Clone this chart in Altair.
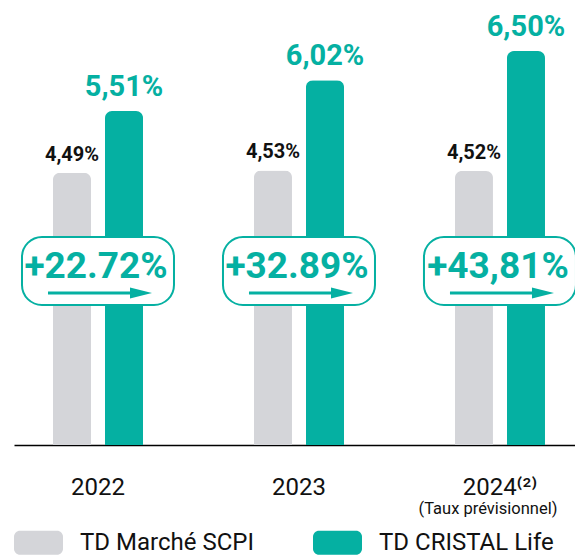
import altair as alt
import pandas as pd

# ---------------- data ----------------
years = ["2022", "2023", "2024"]
year_labels = ["2022", "2023", "2024⁽²⁾"]
series = ["TD Marché SCPI", "TD CRISTAL Life"]
scpi_values = [4.49, 4.53, 4.52]
cristal_values = [5.51, 6.02, 6.50]
scpi_labels = ["4,49%", "4,53%", "4,52%"]
cristal_labels = ["5,51%", "6,02%", "6,50%"]
gain_labels = ["+22.72%", "+32.89%", "+43,81%"]
note_year = ["2024"]
note_text = ["(Taux prévisionnel)"]

GREY = "#d4d5d9"
TEAL = "#05b0a2"
INK = "#111111"
FONT = "Roboto"

bars_df = pd.DataFrame({
    "year": years * 2,
    "series": [series[0]] * len(years) + [series[1]] * len(years),
    "value": scpi_values + cristal_values,
    "label": scpi_labels + cristal_labels,
})
gains_df = pd.DataFrame({"year": years, "gain": gain_labels})
note_df = pd.DataFrame({"year": note_year, "note": note_text})

label_expr = " : ".join(
    [f"datum.value == '{y}' ? '{l}'" for y, l in zip(years, year_labels)] + ["datum.label"]
)

x_scale = alt.Scale(domain=years, paddingInner=0.552, paddingOuter=0.1716, align=0.565)
x_enc = alt.X(
    "year:N",
    scale=x_scale,
    axis=alt.Axis(
        title=None, labelExpr=label_expr, ticks=False, domainColor="#000000",
        domainWidth=1.5, labelFont=FONT, labelFontSize=24, labelColor=INK,
        labelPadding=30, labelAngle=0,
    ),
)
xoff_enc = alt.XOffset("series:N", scale=alt.Scale(domain=series, paddingInner=0.269, paddingOuter=0))
y_enc = alt.Y("value:Q", scale=alt.Scale(domain=[0, 7.21], nice=False, zero=True), axis=None)

ROUNDED = ("M-0.755,-0.49H0.755A0.245,0.245 0 0 1 1,-0.245V0.245"
           "A0.245,0.245 0 0 1 0.755,0.49H-0.755A0.245,0.245 0 0 1 -1,0.245"
           "V-0.245A0.245,0.245 0 0 1 -0.755,-0.49Z")
ARROW = ("M-1,-0.029L0.577,-0.029L0.577,-0.106L1,0L0.577,0.106"
         "L0.577,0.029L-1,0.029Z")

color_enc = alt.Color(
    "series:N",
    scale=alt.Scale(domain=series, range=[GREY, TEAL]),
    legend=alt.Legend(
        orient="none", legendX=0, legendY=510, direction="horizontal", title=None,
        symbolType=ROUNDED, symbolSize=2401, symbolStrokeWidth=0, symbolOpacity=1,
        labelFont=FONT, labelFontSize=24, labelColor=INK, labelOffset=17,
        columnPadding=59, padding=0, labelLimit=400,
    ),
)

bars = alt.Chart(bars_df).mark_bar(cornerRadiusTopLeft=7, cornerRadiusTopRight=7).encode(
    x=x_enc, xOffset=xoff_enc, y=y_enc, color=color_enc,
)

grey_lbl = alt.Chart(bars_df).transform_filter(
    alt.datum.series == series[0]
).mark_text(font=FONT, fontWeight="bold", fontSize=20, color=INK, baseline="alphabetic", dy=-12).encode(
    x=x_enc, xOffset=xoff_enc, y=y_enc, text="label:N",
)

teal_lbl = alt.Chart(bars_df).transform_filter(
    alt.datum.series == series[1]
).mark_text(font=FONT, fontWeight="bold", fontSize=29, color=TEAL, baseline="alphabetic", dy=-15).encode(
    x=x_enc, xOffset=xoff_enc, y=y_enc, text="label:N",
)

box = alt.Chart(gains_df).mark_bar(
    width=152, cornerRadius=20, fill="white", stroke=TEAL, strokeWidth=2,
).encode(x=x_enc, y=alt.value(229), y2=alt.value(297))

gain_txt = alt.Chart(gains_df).mark_text(
    font=FONT, fontWeight="bold", fontSize=37, color=TEAL, baseline="middle", dx=-2,
).encode(x=x_enc, y=alt.value(259), text="gain:N")

arrow = alt.Chart(gains_df).mark_point(
    shape=ARROW, size=10816, filled=True, color=TEAL, opacity=1, strokeWidth=0, xOffset=2,
).encode(x=x_enc, y=alt.value(285))

note = alt.Chart(note_df).mark_text(
    font=FONT, fontSize=16.5, color=INK, baseline="middle", dx=-12,
).encode(x=x_enc, y=alt.value(501), text="note:N")

chart = alt.layer(bars, grey_lbl, teal_lbl, box, gain_txt, arrow, note).properties(
    width=561, height=437,
    padding={"left": 6, "top": 0, "right": 0, "bottom": 113},
    autosize=alt.AutoSizeParams(type="none"),
).configure(font=FONT).configure_view(stroke=None)

chart.save("out.html", embed_options={"renderer": "svg", "actions": False})
